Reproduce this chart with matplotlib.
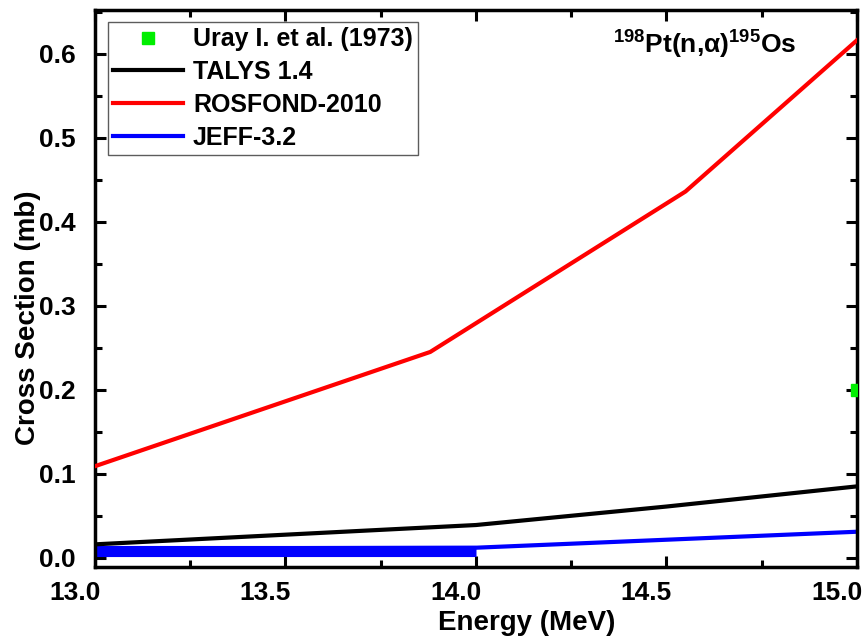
import matplotlib
matplotlib.use("Agg")
import matplotlib.pyplot as plt
from matplotlib.ticker import MultipleLocator
from matplotlib.transforms import ScaledTranslation

plt.rcParams['font.family'] = ['Liberation Sans', 'DejaVu Sans']
plt.rcParams['font.weight'] = 'bold'
plt.rcParams['mathtext.fontset'] = 'custom'
plt.rcParams['mathtext.rm'] = 'Liberation Sans:bold'
plt.rcParams['mathtext.it'] = 'Liberation Sans:bold'
plt.rcParams['mathtext.bf'] = 'Liberation Sans:bold'
plt.rcParams['mathtext.default'] = 'rm'

# Data
exp_x = [15.0]
exp_y = [0.200]

talys_x = [13.0, 14.0, 14.5, 15.0]
talys_y = [0.016, 0.039, 0.061, 0.085]

rosfond_x = [13.0, 13.88, 14.55, 15.0]
rosfond_y = [0.109, 0.245, 0.436, 0.616]

jeff_x = [13.0, 14.0, 15.0]
jeff_y = [0.011, 0.012, 0.031]

jeff_band_x = [13.0, 14.0]
jeff_band_y = [0.0075, 0.0075]

xticks = [13.0, 13.5, 14.0, 14.5, 15.0]
yticks = [0.0, 0.1, 0.2, 0.3, 0.4, 0.5, 0.6]

fig = plt.figure(figsize=(8.68, 6.41), dpi=100)
ax = fig.add_axes([0.1094, 0.1154, 0.8779, 0.869])

ax.plot(jeff_band_x, jeff_band_y, color='#0000ff', lw=8, solid_capstyle='butt', zorder=2)
ax.plot(jeff_x, jeff_y, color='#0000ff', lw=3, zorder=2, label='JEFF-3.2')
ax.plot(talys_x, talys_y, color='black', lw=3, zorder=3, label='TALYS 1.4')
ax.plot(rosfond_x, rosfond_y, color='#ff0000', lw=3, zorder=3, label='ROSFOND-2010')
ax.plot(exp_x, exp_y, ls='none', marker='s', ms=9, color='#00ee00', zorder=4,
        label='Uray I. et al. (1973)')

ax.set_xlim(13.0, 14.98)
ax.set_ylim(-0.011, 0.652)
ax.set_xticks(xticks)
ax.set_yticks(yticks)
ax.set_xticklabels([f"{v:.1f}" for v in xticks])
ax.set_yticklabels([f"{v:.1f}" for v in yticks])
ax.xaxis.set_minor_locator(MultipleLocator(0.25))
ax.yaxis.set_minor_locator(MultipleLocator(0.05))

ax.tick_params(which='both', direction='in', top=True, right=True, width=2.2,
               labelsize=19)
ax.tick_params(which='major', length=8)
ax.tick_params(which='minor', length=5)
ax.tick_params(axis='x', pad=10)
ax.tick_params(axis='y', pad=14)
for lab in ax.get_xticklabels():
    lab.set_transform(lab.get_transform() + ScaledTranslation(-0.2, 0, fig.dpi_scale_trans))
for s in ax.spines.values():
    s.set_linewidth(2.5)

ax.set_xlabel('Energy (MeV)', fontsize=20, fontweight='bold')
ax.xaxis.set_label_coords(0.566, -0.101, transform=ax.transAxes)
ax.xaxis.label.set_va('center')
ax.set_ylabel('Cross Section (mb)', fontsize=20, fontweight='bold')
ax.yaxis.set_label_coords(-0.088, 0.447, transform=ax.transAxes)
ax.yaxis.label.set_va('center')

h, l = ax.get_legend_handles_labels()
order = [3, 1, 2, 0]
leg = ax.legend([h[i] for i in order], [l[i] for i in order], loc='upper left',
                bbox_to_anchor=(0.017, 0.978), fontsize=18, frameon=True,
                fancybox=False, edgecolor='#333333', handlelength=2.8,
                handletextpad=0.4, borderpad=0.2, labelspacing=0.35,
                borderaxespad=0)
leg.get_frame().set_linewidth(1.0)

ax.text(0.80, 0.937, r'$^{198}$Pt(n,$\alpha$)$^{195}$Os', transform=ax.transAxes,
        ha='center', va='center', fontsize=19, fontweight='bold')

fig.savefig('out.png', dpi=100)
